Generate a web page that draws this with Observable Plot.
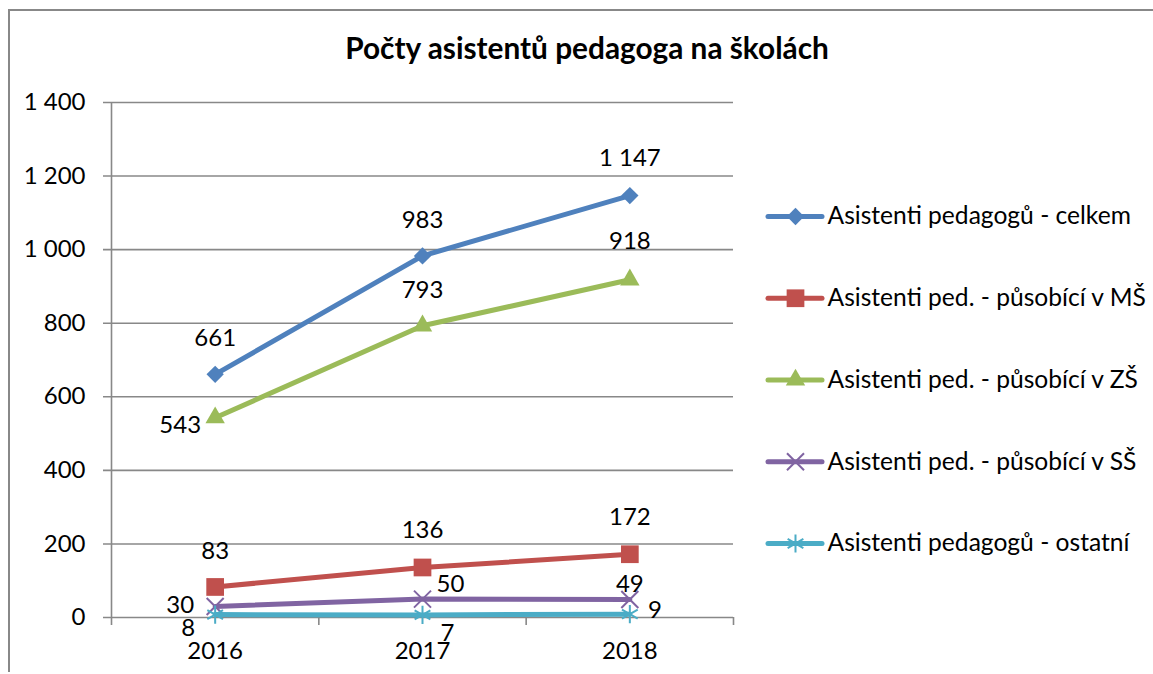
<!DOCTYPE html>
<html><head><meta charset="utf-8">
<script src="https://cdn.jsdelivr.net/npm/d3@7"></script>
<script src="https://cdn.jsdelivr.net/npm/@observablehq/plot@0.6"></script>
<style>
body{margin:0;background:#fff;}
#wrap{position:relative;width:1153px;height:674px;overflow:hidden;font-family:Lato,"Open Sans",sans-serif;}
#frame{position:absolute;left:8px;top:9px;width:1200px;height:663px;border-left:2px solid #888;border-top:2px solid #888;box-sizing:border-box;}
#title{position:absolute;left:0;width:1174px;top:30px;text-align:center;font-weight:bold;font-size:29.8px;color:#000;}
#chart{position:absolute;left:0;top:0;}
#legend{position:absolute;left:750px;top:170px;}
</style></head><body>
<div id="wrap">
  <div id="frame"></div>
  <div id="chart"></div>
  <div id="legend"></div>
  <div id="title">Počty asistentů pedagoga na školách</div>
</div>
<script>
const years = [2016, 2017, 2018];
const seriesNames = [
  "Asistenti pedagogů - celkem",
  "Asistenti ped. - působící v MŠ",
  "Asistenti ped. - působící v ZŠ",
  "Asistenti ped. - působící v SŠ",
  "Asistenti pedagogů - ostatní"
];
const celkem = [661, 983, 1147];
const vMS = [83, 136, 172];
const vZS = [543, 793, 918];
const vSS = [30, 50, 49];
const ostatni = [8, 7, 9];
const yTicks = [0, 200, 400, 600, 800, 1000, 1200, 1400];
const colors = ["#4F81BD", "#C0504D", "#9BBB59", "#8064A2", "#4BACC6"];

// presentation settings (not data)
const symbols = ["diamond2", "square", "triangle", "times", "asterisk"];
const symbolR = [7.8, 10, 7.2, 7.8, 8.6];
const filled = [true, true, true, false, false];
const labelOffsets = [
  [[0, -36], [0, -36], [0, -37]],
  [[0, -36], [0, -37], [0, -37]],
  [[-35, 8], [0, -35], [0, -38]],
  [[-35, -1], [28, -15], [0, -15]],
  [[-27, 14], [25, 18], [25, -4]]
];

const valueLists = [celkem, vMS, vZS, vSS, ostatni];
const rows = [];
valueLists.forEach((vals, s) => vals.forEach((v, i) => rows.push({series: seriesNames[s], si: s, i, year: years[i], value: v})));

const fmt = d => d3.format(",")(d).replace(/,/g, " ");
const FS = 24;
const gridColor = "#888888";
const x0 = years[0] - 0.5, x1 = years[years.length - 1] + 0.5;
const bounds = d3.range(years.length + 1).map(k => x0 + k);

const marks = [
  Plot.ruleY(yTicks, {x1: x0, x2: x1, stroke: gridColor, strokeWidth: 1.6, insetLeft: -8}),
  Plot.ruleX([x0], {y1: 0, y2: 1400, stroke: gridColor, strokeWidth: 1.6}),
  Plot.ruleX(bounds, {y1: 0, y2: 0, insetBottom: -8, stroke: gridColor, strokeWidth: 1.6}),
  Plot.axisY({ticks: yTicks, tickSize: 0, tickPadding: 26, tickFormat: fmt, fontSize: FS, fill: "#000", label: null}),
  Plot.axisX({ticks: years, tickSize: 0, tickPadding: 24, tickFormat: d => String(d), fontSize: FS, fill: "#000", label: null})
];

seriesNames.forEach((name, s) => {
  const d = rows.filter(r => r.si === s);
  marks.push(Plot.line(d, {x: "year", y: "value", stroke: colors[s], strokeWidth: 5, strokeLinecap: "round", strokeLinejoin: "round"}));
  marks.push(Plot.dot(d, filled[s]
    ? {x: "year", y: "value", symbol: () => symbols[s], r: symbolR[s], fill: colors[s], stroke: "none"}
    : {x: "year", y: "value", symbol: () => symbols[s], r: symbolR[s], fill: "none", stroke: colors[s], strokeWidth: 2}));
});
rows.forEach(r => {
  const [dx, dy] = labelOffsets[r.si][r.i];
  marks.push(Plot.text([r], {x: "year", y: "value", text: d => fmt(d.value), dx, dy, fontSize: FS, fill: "#000"}));
});

const chart = Plot.plot({
  width: 1153, height: 674,
  marginLeft: 111, marginRight: 420, marginTop: 102, marginBottom: 57,
  style: {fontFamily: "Lato, 'Open Sans', sans-serif", background: "transparent", overflow: "visible"},
  x: {domain: [x0, x1], axis: null},
  y: {domain: [0, 1400], axis: null},
  symbol: {type: "identity"},
  marks
});
document.getElementById("chart").appendChild(chart);

// legend drawn with Plot (pixel identity scales inside the legend box)
const legTop = 170;
const legendRows = seriesNames.map((name, s) => ({name, s, y: 216 - legTop + s * 81.75}));
const legMarks = [];
legendRows.forEach(r => {
  legMarks.push(Plot.ruleY([r], {y: "y", x1: 18, x2: 72, stroke: colors[r.s], strokeWidth: 5, strokeLinecap: "round"}));
  legMarks.push(Plot.dot([r], filled[r.s]
    ? {x: 45, y: "y", symbol: () => symbols[r.s], r: symbolR[r.s], fill: colors[r.s], stroke: "none"}
    : {x: 45, y: "y", symbol: () => symbols[r.s], r: symbolR[r.s], fill: "none", stroke: colors[r.s], strokeWidth: 2}));
  legMarks.push(Plot.text([r], {x: 77, y: "y", text: "name", textAnchor: "start", fontSize: 24.6, fill: "#000"}));
});
const legend = Plot.plot({
  width: 400, height: 420,
  margin: 0,
  style: {fontFamily: "Lato, 'Open Sans', sans-serif", background: "transparent", overflow: "visible"},
  x: {type: "identity", axis: null},
  y: {type: "identity", axis: null},
  symbol: {type: "identity"},
  marks: legMarks
});
document.getElementById("legend").appendChild(legend);
</script>
</body></html>
